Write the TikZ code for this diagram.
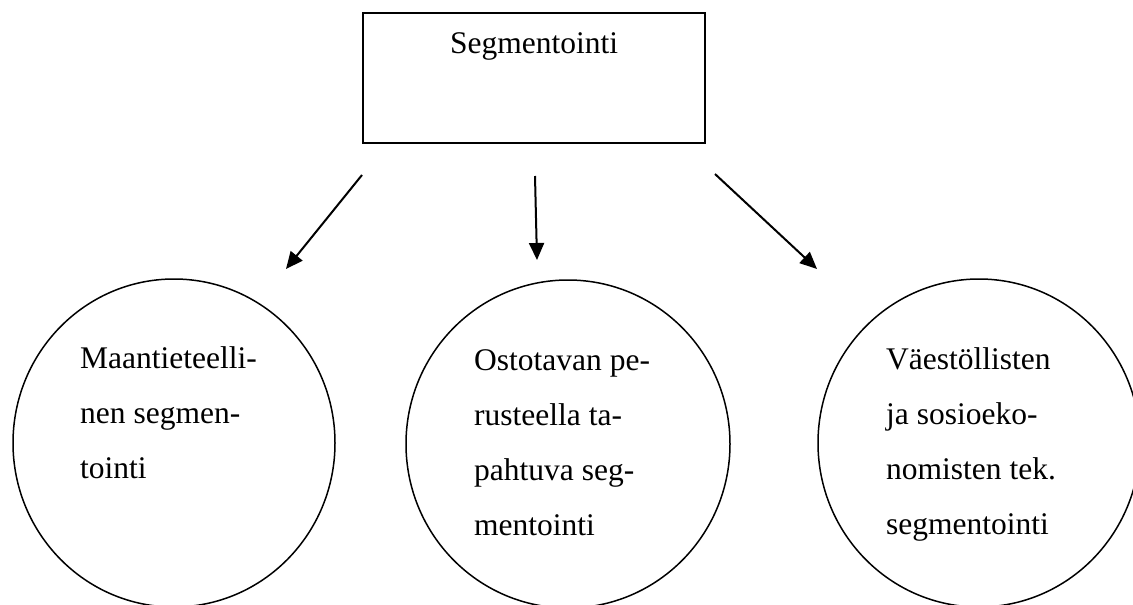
\documentclass[tikz,border=0pt]{standalone}
\usepackage{fontspec}
\setmainfont{Liberation Serif}
\usetikzlibrary{arrows.meta,shapes.geometric}
\begin{document}
\begin{tikzpicture}[x=1pt,y=-1pt,
  topbox/.style={draw, line width=1.8pt, minimum width=342pt, minimum height=130pt, inner sep=0pt},
  bubble/.style={draw, ellipse, line width=1.5pt, inner sep=0pt, minimum height=328pt},
  txt/.style={inner sep=0pt, font=\fontsize{31.5}{55}\selectfont},
  link/.style={line width=2pt, -{Triangle[length=17pt,width=15pt]}}]
  \useasboundingbox (0,0) rectangle (1133,605);
  \clip (0,0) rectangle (1133,605);

  % top box with its title
  \node[topbox] (seg) at (534,78) {};
  \node[txt, anchor=base] (segtxt) at (534,53) {Segmentointi};

  % the three segment circles
  \node[bubble, minimum width=322pt] (geo) at (174,443) {};
  \node[bubble, minimum width=324pt] (buy) at (568,444) {};
  \node[bubble, minimum width=322pt] (demo) at (979,443) {};

  \node[txt, anchor=base west] (geotxt) at (80,368)
    {\begin{tabular}[t]{@{}l@{}}Maantieteelli-\\nen segmen-\\tointi\end{tabular}};
  \node[txt, anchor=base west] (buytxt) at (474,370)
    {\begin{tabular}[t]{@{}l@{}}Ostotavan pe-\\rusteella ta-\\pahtuva seg-\\mentointi\end{tabular}};
  \node[txt, anchor=base west] (demotxt) at (886,369)
    {\begin{tabular}[t]{@{}l@{}}Väestöllisten\\ja sosioeko-\\nomisten tek.\\segmentointi\end{tabular}};

  % arrow end points
  \coordinate (a1) at (362,175);
  \coordinate (b1) at (286,269);
  \coordinate (a2) at (535,176);
  \coordinate (b2) at (537,260);
  \coordinate (a3) at (715,174);
  \coordinate (b3) at (817,269);

  \draw[link] (a1) -- (b1);
  \draw[link] (a2) -- (b2);
  \draw[link] (a3) -- (b3);
\end{tikzpicture}
\end{document}
